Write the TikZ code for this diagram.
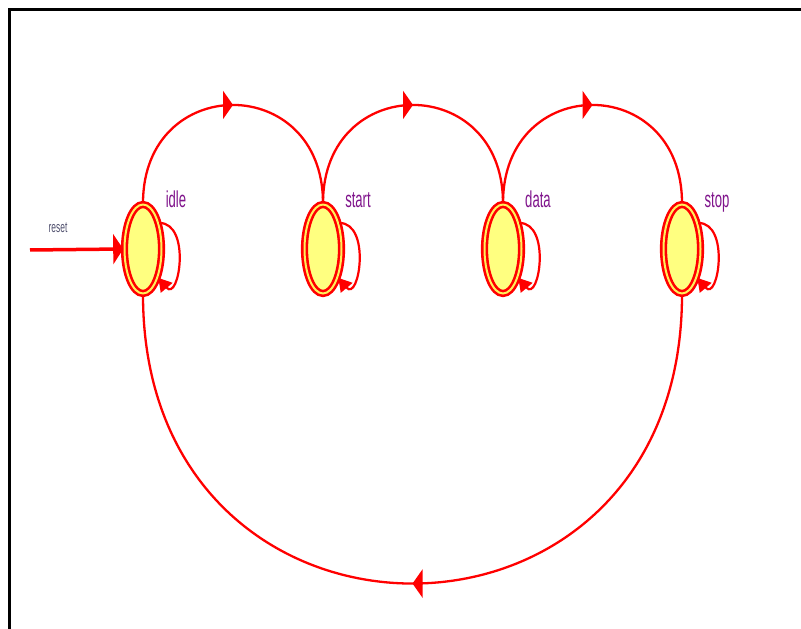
\documentclass[tikz,border=0pt]{standalone}
\usepackage{fontspec}
\setmainfont{Liberation Sans}
\usetikzlibrary{shapes.geometric,arrows.meta,decorations.markings}
\definecolor{fsmred}{RGB}{255,0,0}
\definecolor{fsmyellow}{RGB}{255,255,128}
\definecolor{ringyellow}{RGB}{255,240,90}
\definecolor{lblpurple}{RGB}{128,20,140}
\definecolor{resetgray}{RGB}{80,80,110}
\tikzset{
  state/.style={ellipse, draw=fsmred, fill=fsmyellow, double=ringyellow,
    line width=2.6pt, double distance=2pt,
    minimum width=37pt, minimum height=89pt, inner sep=0pt},
  lbl/.style={font=\fontsize{23}{23}\selectfont, text=lblpurple, xscale=0.57, inner sep=0pt, anchor=base},
  arc/.style={draw=fsmred, line width=2.3pt,
    postaction={decorate, decoration={markings,
      mark=at position 0.5 with {\arrow{Triangle[length=10pt,width=28pt]}}}}},
  selfloop/.style={draw=fsmred, line width=2.2pt, -{Triangle[length=13pt,width=15pt]}},
  resetline/.style={draw=fsmred, line width=3.5pt, -{Triangle[length=10pt,width=30pt]}},
}
\begin{document}
\begin{tikzpicture}[x=1pt,y=1pt]
\useasboundingbox (0,0) rectangle (801,629);
\fill[white] (0,0) rectangle (801,629);
% frame (top and left edges)
\draw[black, line width=3pt] (9.5,0) -- (9.5,619.5) -- (801,619.5);
% states
\node[state] (idle)  at (143,380) {};
\node[state] (start) at (323,380) {};
\node[state] (data)  at (503,380) {};
\node[state] (stop)  at (682,380) {};
% labels
\node[lbl] (lidle)  at (176,421) {idle};
\node[lbl] (lstart) at (358,421) {start};
\node[lbl] (ldata)  at (538,421) {data};
\node[lbl] (lstop)  at (717,421) {stop};
% reset
\coordinate (rs) at (30,379);
\draw[resetline] (rs) -- (idle.west);
\node[font=\fontsize{15}{15}\selectfont, text=resetgray, xscale=0.56, inner sep=0pt] (lreset) at (58,401) {reset};
% top arcs
\draw[arc] (idle.north) .. controls +(0,131) and +(0,131) .. (start.north);
\draw[arc] (start.north) .. controls +(0,131) and +(0,131) .. (data.north);
\draw[arc] (data.north) .. controls +(0,131) and +(0,131) .. (stop.north);
% bottom arc
\draw[arc] (stop.south) .. controls +(0,-385) and +(0,-385) .. (idle.south);
% self loops
\foreach \s in {idle,start,data,stop}{
  \draw[selfloop] (\s.58) to[out=0,in=-50,looseness=1.5] (\s.-62);
}
\end{tikzpicture}
\end{document}
